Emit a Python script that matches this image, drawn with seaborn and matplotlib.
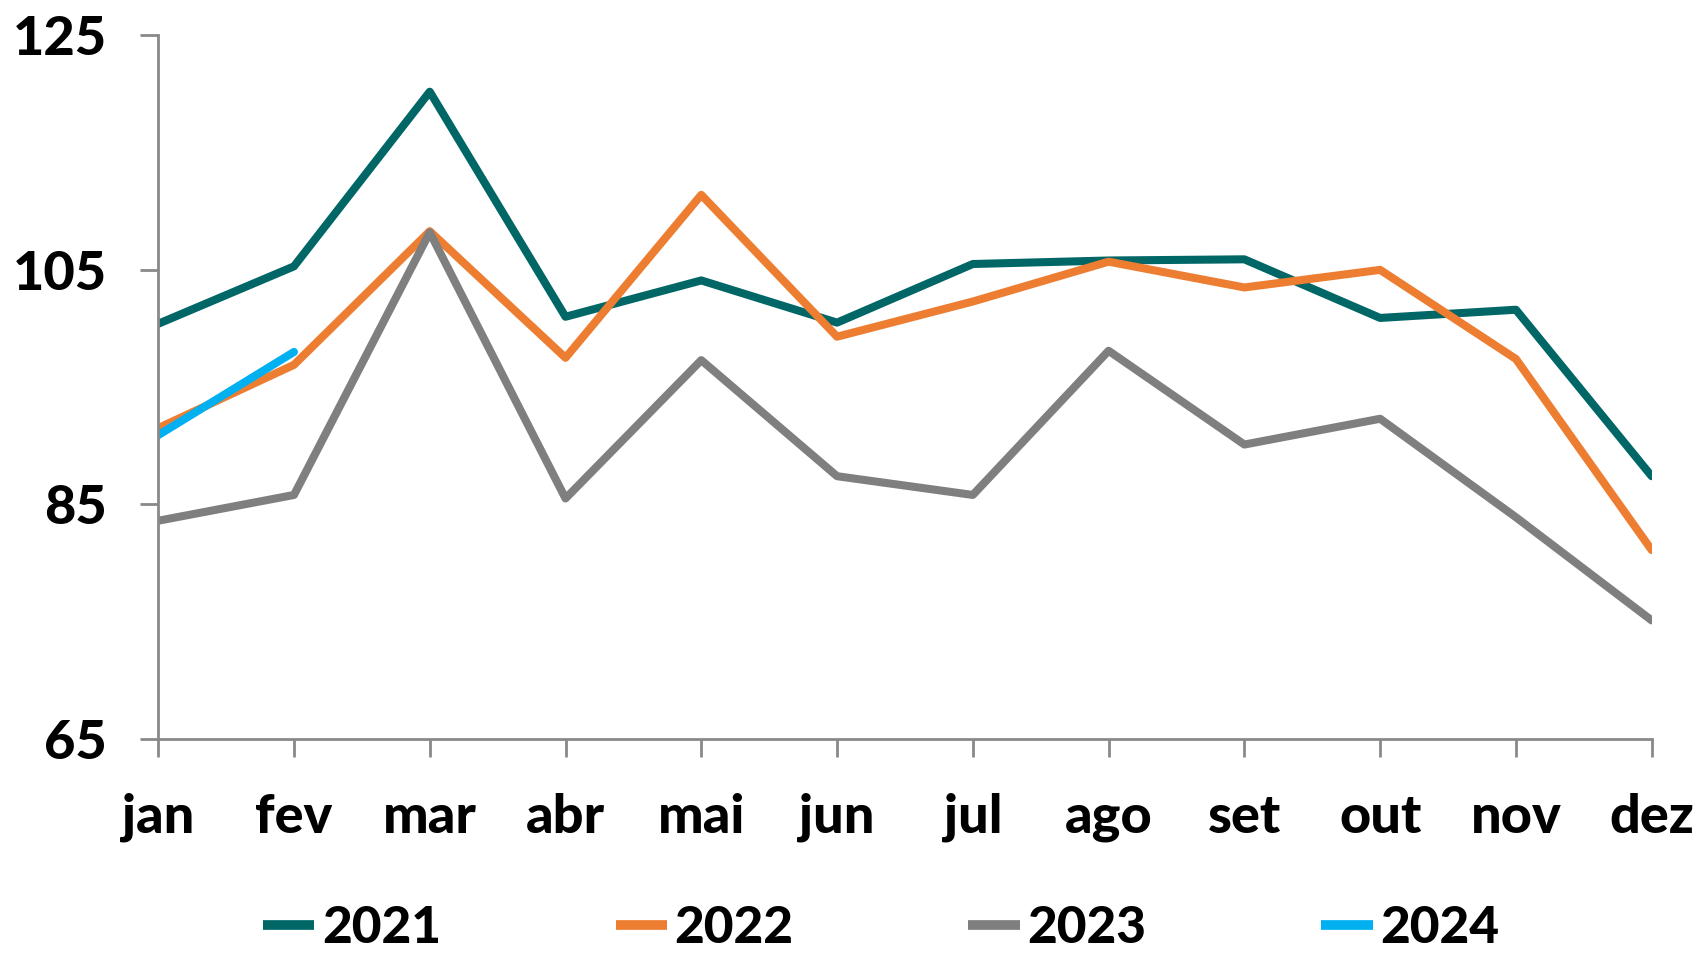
import numpy as np
import pandas as pd
import matplotlib
matplotlib.use("Agg")
import matplotlib.pyplot as plt
import seaborn as sns

# month labels and yearly index values
months = ["jan", "fev", "mar", "abr", "mai", "jun", "jul", "ago", "set", "out", "nov", "dez"]
v2021 = [100.4, 105.3, 120.2, 101.0, 104.1, 100.5, 105.5, 105.8, 105.9, 100.9, 101.6, 87.4]
v2022 = [91.5, 96.9, 108.3, 97.5, 111.4, 99.3, 102.3, 105.7, 103.5, 105.0, 97.4, 81.1]
v2023 = [83.6, 85.8, 108.2, 85.5, 97.3, 87.4, 85.8, 98.1, 90.1, 92.3, 83.9, 75.1]
v2024 = [90.9, 98.0]

years = ["2021", "2022", "2023", "2024"]
colors = ["#006666", "#ED7D31", "#7F7F7F", "#00B0F0"]

rows = []
for yr, vals in zip(years, [v2021, v2022, v2023, v2024]):
    for i, v in enumerate(vals):
        rows.append({"mes": i, "valor": v, "ano": yr})
df = pd.DataFrame(rows)

sns.set_theme(style="white")
plt.rcParams["font.family"] = ["Lato", "DejaVu Sans"]
plt.rcParams["text.color"] = "black"
plt.rcParams["xtick.color"] = "black"
plt.rcParams["ytick.color"] = "black"

fig, ax = plt.subplots(figsize=(17.01, 9.57), dpi=100)
fig.subplots_adjust(left=0.093, right=0.971, top=0.963, bottom=0.228)

sns.lineplot(data=df, x="mes", y="valor", hue="ano", palette=colors,
             linewidth=5.8, ax=ax, legend=False, sort=False)

ax.set_xlim(0, 11)
ax.set_ylim(65, 125)
ax.set_yticks([65, 85, 105, 125])
ax.set_xticks(range(len(months)))
ax.set_xticklabels(months)
ax.set_xlabel("")
ax.set_ylabel("")

for s in ["top", "right"]:
    ax.spines[s].set_visible(False)
for s in ["left", "bottom"]:
    ax.spines[s].set_color("#898989")
    ax.spines[s].set_linewidth(2)

ax.tick_params(axis="y", direction="out", length=13, width=2, color="#898989",
               labelsize=39, pad=24, left=True, labelcolor="black")
ax.tick_params(axis="x", direction="out", length=13, width=2, color="#898989",
               labelsize=39, pad=26, bottom=True, labelcolor="black")
for lbl in ax.get_xticklabels() + ax.get_yticklabels():
    lbl.set_fontweight(900)

handles = [plt.Line2D([], [], color=c, linewidth=7, solid_capstyle="butt") for c in colors]
leg = fig.legend(handles, years, loc="center", bbox_to_anchor=(0.518, 0.03), ncol=4,
                 frameon=False, handlelength=1.0, handletextpad=0.15, columnspacing=3.4,
                 borderpad=0.2, prop={"family": "Lato", "weight": 900, "size": 37})

fig.savefig("out.png", dpi=100)
